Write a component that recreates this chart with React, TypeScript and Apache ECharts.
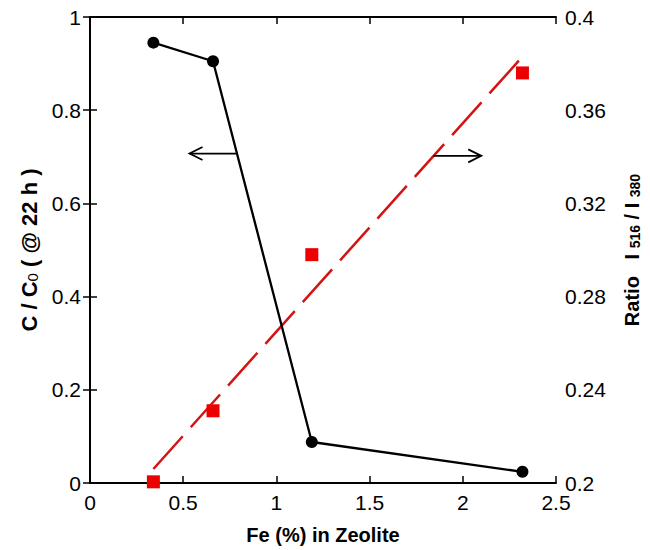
import React, { useEffect, useRef } from "react";
import * as echarts from "echarts";

// Fe content (%) in zeolite and C/C0 after 22 h (left axis)
const feBlack = [0.34, 0.66, 1.19, 2.32];
const cOverC0 = [0.945, 0.905, 0.088, 0.024];

// Fe content (%) and fluorescence ratio I516/I380 (right axis)
const feRed = [0.34, 0.66, 1.19, 2.32];
const intensityRatio = [0.2005, 0.231, 0.298, 0.376];

// Linear fit of the ratio (right axis)
const fitX = [0.34, 2.32];
const fitY = [0.206, 0.383];

// Arrow annotations in data units of the left axis
const arrowFromX = [0.785, 1.843];
const arrowToX = [0.534, 2.099];
const arrowY = [0.707, 0.702];

const FONT = "'Liberation Sans', Arial, sans-serif";

const fmt = (v: number) => String(+Number(v).toFixed(2));

export default function App() {
  const ref = useRef<HTMLDivElement>(null);

  useEffect(() => {
    if (!ref.current) return;
    const chart = echarts.init(ref.current, undefined, { renderer: "svg" });

    const axisLine = { show: true, lineStyle: { color: "#000", width: 2 } };
    const axisTick = { show: true, inside: true, length: 7, lineStyle: { color: "#000", width: 1.5 } };
    const axisLabel = { color: "#000", fontSize: 21, fontFamily: FONT, margin: 9, formatter: fmt };

    const option: any = {
      animation: false,
      backgroundColor: "#fff",
      grid: { left: 90, right: 94, top: 17, bottom: 67, containLabel: false },
      xAxis: [
        {
          type: "value",
          min: 0,
          max: 2.5,
          interval: 0.5,
          position: "bottom",
          axisLine,
          axisTick,
          axisLabel,
          splitLine: { show: false },
          name: "Fe (%) in Zeolite",
          nameLocation: "middle",
          nameGap: 42,
          nameTextStyle: { color: "#000", fontSize: 20, fontWeight: "bold", fontFamily: FONT },
        },
        {
          type: "value",
          min: 0,
          max: 2.5,
          interval: 0.5,
          position: "top",
          axisLine,
          axisTick,
          axisLabel: { show: false },
          splitLine: { show: false },
        },
      ],
      yAxis: [
        {
          type: "value",
          min: 0,
          max: 1,
          interval: 0.2,
          position: "left",
          axisLine,
          axisTick,
          axisLabel,
          splitLine: { show: false },
          name: "{b|C / C}{s|0}{b| ( @ 22 h )}",
          nameLocation: "middle",
          nameRotate: 90,
          nameGap: 50,
          nameTextStyle: {
            color: "#000",
            fontFamily: FONT,
            rich: {
              b: { fontSize: 22, fontWeight: "bold", fontFamily: FONT, color: "#000", lineHeight: 26, verticalAlign: "bottom" },
              s: { fontSize: 15, fontWeight: "normal", fontFamily: FONT, color: "#000", lineHeight: 19, verticalAlign: "bottom" },
            },
          },
        },
        {
          type: "value",
          min: 0.2,
          max: 0.4,
          interval: 0.04,
          position: "right",
          axisLine,
          axisTick,
          axisLabel,
          splitLine: { show: false },
          name: "{b|Ratio   I }{s|516}{b| / I }{s|380}",
          nameLocation: "middle",
          nameRotate: 90,
          nameGap: 62,
          nameTextStyle: {
            color: "#000",
            fontFamily: FONT,
            rich: {
              b: { fontSize: 20, fontWeight: "bold", fontFamily: FONT, color: "#000", lineHeight: 24, verticalAlign: "bottom" },
              s: { fontSize: 14, fontWeight: "bold", fontFamily: FONT, color: "#000", lineHeight: 18, verticalAlign: "bottom" },
            },
          },
        },
      ],
      series: [
        {
          name: "fit",
          type: "line",
          xAxisIndex: 0,
          yAxisIndex: 1,
          data: fitX.map((x, i) => [x, fitY[i]]),
          showSymbol: false,
          symbol: "none",
          lineStyle: { color: "#d41414", width: 2.5, type: [44, 12] },
          z: 2,
        },
        {
          name: "ratio",
          type: "scatter",
          xAxisIndex: 0,
          yAxisIndex: 1,
          data: feRed.map((x, i) => [x, intensityRatio[i]]),
          symbol: "rect",
          symbolSize: 13,
          itemStyle: { color: "#ec0000", opacity: 1 },
          z: 3,
        },
        {
          name: "C/C0",
          type: "line",
          xAxisIndex: 0,
          yAxisIndex: 0,
          data: feBlack.map((x, i) => [x, cOverC0[i]]),
          symbol: "circle",
          symbolSize: 12,
          lineStyle: { color: "#000", width: 2.3 },
          itemStyle: { color: "#000" },
          z: 4,
        },
        {
          name: "arrows",
          type: "custom",
          xAxisIndex: 0,
          yAxisIndex: 0,
          data: arrowFromX.map((x, i) => [x, arrowY[i], arrowToX[i], arrowY[i]]),
          encode: { x: [0, 2], y: [1, 3] },
          renderItem: (_params: any, api: any) => {
            const p1 = api.coord([api.value(0), api.value(1)]);
            const p2 = api.coord([api.value(2), api.value(3)]);
            const dir = p2[0] > p1[0] ? 1 : -1;
            const style = { stroke: "#000", lineWidth: 1.8, fill: "none" };
            return {
              type: "group",
              children: [
                { type: "line", shape: { x1: p1[0], y1: p1[1], x2: p2[0], y2: p2[1] }, style },
                {
                  type: "polyline",
                  shape: { points: [[p2[0] - dir * 13, p2[1] - 6.5], [p2[0], p2[1]], [p2[0] - dir * 13, p2[1] + 6.5]] },
                  style,
                },
              ],
            };
          },
          z: 5,
        },
      ],
    };

    chart.setOption(option);
    return () => chart.dispose();
  }, []);

  return <div ref={ref} style={{ position: "fixed", left: 0, top: 0, width: 650, height: 550 }} />;
}
